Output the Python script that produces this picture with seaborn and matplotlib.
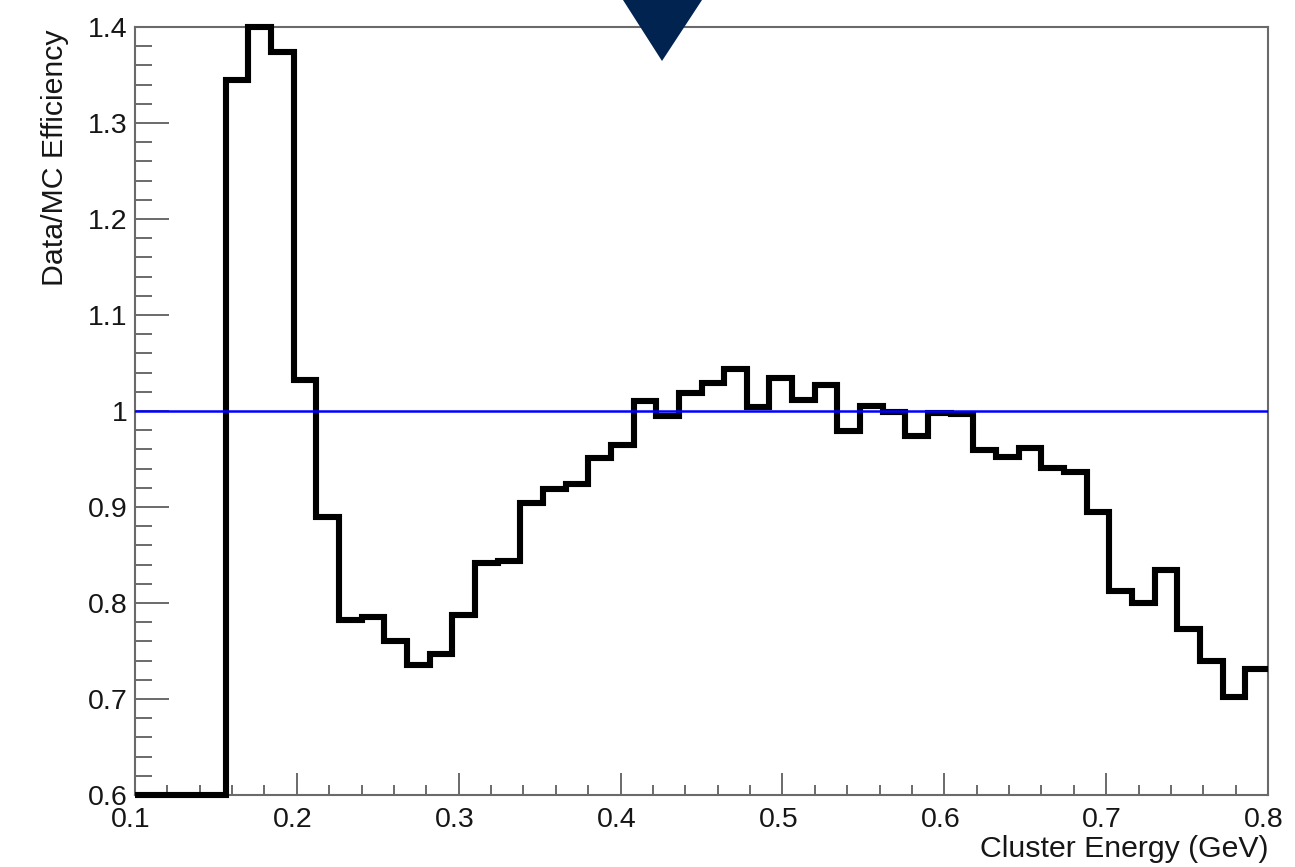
import numpy as np
import pandas as pd
import matplotlib
matplotlib.use("Agg")
import matplotlib.pyplot as plt
from matplotlib.ticker import MultipleLocator, FuncFormatter
from matplotlib.patches import Polygon
from matplotlib.transforms import ScaledTranslation
import seaborn as sns

# Binning of the cluster-energy histogram (GeV)
E_MIN, E_MAX, N_BINS = 0.1, 0.8, 50

# Data/MC efficiency ratio per bin
efficiency = [
    0.0, 0.0, 0.0, 0.0, 1.345, 1.400, 1.374, 1.032, 0.890, 0.782,
    0.785, 0.760, 0.735, 0.747, 0.787, 0.842, 0.844, 0.904, 0.919, 0.924,
    0.951, 0.965, 1.010, 0.995, 1.019, 1.029, 1.044, 1.004, 1.034, 1.011,
    1.027, 0.979, 1.005, 0.999, 0.974, 0.998, 0.997, 0.959, 0.952, 0.961,
    0.941, 0.936, 0.895, 0.812, 0.800, 0.834, 0.773, 0.740, 0.702, 0.731,
]

Y_MIN, Y_MAX = 0.6, 1.4
REFERENCE_LEVEL = 1.0

x_ticks = [0.1, 0.2, 0.3, 0.4, 0.5, 0.6, 0.7, 0.8]
y_ticks = [0.6, 0.7, 0.8, 0.9, 1.0, 1.1, 1.2, 1.3, 1.4]

x_title = "Cluster Energy (GeV)"
y_title = "Data/MC Efficiency"

sns.set_style("white")
plt.rcParams["font.family"] = ["Liberation Sans", "DejaVu Sans"]
TEXT = "#161616"
FRAME = "#6a6a6a"

fig = plt.figure(figsize=(12.95, 8.67), dpi=100)
ax = fig.add_axes([135 / 1295, 1 - 795 / 867, 1133 / 1295, 768 / 867])

edges = np.linspace(E_MIN, E_MAX, N_BINS + 1)
centers = 0.5 * (edges[:-1] + edges[1:])
# Out-of-range contents are drawn on the frame, like an underflowing histogram
drawn = np.clip(np.asarray(efficiency), Y_MIN, Y_MAX)
hist_df = pd.DataFrame({"energy": centers, "ratio": drawn})

sns.histplot(data=hist_df, x="energy", weights="ratio", bins=list(edges),
             element="step", fill=False, color="black", linewidth=4.4, ax=ax)
for ln in ax.lines:
    ln.set_clip_on(False)
    ln.set_zorder(3)
    ln.set_solid_joinstyle("miter")
    ln.set_solid_capstyle("butt")

ax.axhline(REFERENCE_LEVEL, color="#0000ff", linewidth=1.8, zorder=4)

ax.set_xlim(E_MIN, E_MAX)
ax.set_ylim(Y_MIN, Y_MAX)

ax.set_xticks(x_ticks)
ax.set_yticks(y_ticks)
ax.xaxis.set_minor_locator(MultipleLocator(0.02))
ax.yaxis.set_minor_locator(MultipleLocator(0.02))
fmt = FuncFormatter(lambda v, _: f"{v:g}")
ax.xaxis.set_major_formatter(fmt)
ax.yaxis.set_major_formatter(fmt)

ax.tick_params(which="both", direction="in", colors=FRAME, width=1.4,
               bottom=True, left=True, top=False, right=False,
               labelcolor=TEXT, labelsize=20.5)
ax.tick_params(axis="y", which="major", length=24.5, pad=5.5)
ax.tick_params(axis="y", which="minor", length=12.2)
ax.tick_params(axis="x", which="major", length=16, pad=8.5)
ax.tick_params(axis="x", which="minor", length=7.5)

# Energy labels sit a little left of their ticks
shift = ScaledTranslation(-4 / 100, 0, fig.dpi_scale_trans)
for t in ax.xaxis.get_major_ticks():
    t.label1.set_transform(t.label1.get_transform() + shift)

for sp in ax.spines.values():
    sp.set_visible(True)
    sp.set_color(FRAME)
    sp.set_linewidth(1.5)

ax.set_xlabel(x_title, fontsize=21.8, color=TEXT, ha="right", va="baseline")
ax.xaxis.set_label_coords(1.0, (795 - 857) / 768)
ax.set_ylabel(y_title, fontsize=21.8, color=TEXT, ha="right", va="baseline",
              rotation_mode="anchor")
ax.yaxis.set_label_coords((63 - 135) / 1133, (795 - 30) / 768)

# Navigation marker at the top of the page
marker = Polygon([(623 / 1295, 1.0), (702 / 1295, 1.0), (662 / 1295, 1 - 61 / 867)],
                 closed=True, transform=fig.transFigure, facecolor="#012350",
                 edgecolor="none", zorder=10)
fig.patches.append(marker)

fig.savefig("out.png", dpi=100, facecolor="white")
